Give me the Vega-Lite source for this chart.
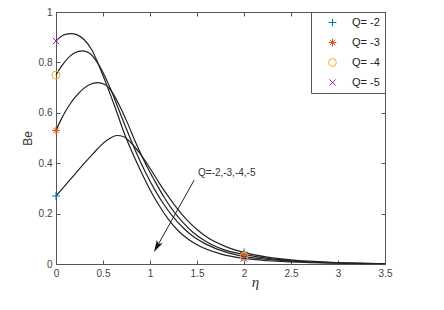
{
  "$schema": "https://vega.github.io/schema/vega-lite/v6.json",
  "width": 329,
  "height": 252,
  "autosize": "none",
  "padding": {"left": 56, "top": 12, "right": 59, "bottom": 46},
  "background": "white",
  "config": {
    "view": {"stroke": "#555", "strokeWidth": 1},
    "axis": {
      "grid": false,
      "domainColor": "#555",
      "tickColor": "#555",
      "labelColor": "#444",
      "labelFont": "Liberation Sans",
      "labelFontSize": 10,
      "tickSize": -4,
      "titleFontWeight": "normal"
    },
    "legend": {
      "orient": "top-right",
      "offset": 0,
      "strokeColor": "#555",
      "fillColor": "white",
      "padding": 5,
      "rowPadding": 7,
      "labelFont": "Liberation Sans",
      "labelFontSize": 11,
      "labelColor": "#222",
      "labelOffset": 14,
      "symbolOffset": 11,
      "symbolSize": 60,
      "symbolStrokeWidth": 1
    }
  },
  "datasets": {
    "curves": [
      {"Q": "-5", "eta": 0, "Be": 0.885}, {"Q": "-5", "eta": 0.05, "Be": 0.902}, {"Q": "-5", "eta": 0.1, "Be": 0.911}, {"Q": "-5", "eta": 0.16, "Be": 0.914}, {"Q": "-5", "eta": 0.22, "Be": 0.91}, {"Q": "-5", "eta": 0.3, "Be": 0.89}, {"Q": "-5", "eta": 0.38, "Be": 0.85}, {"Q": "-5", "eta": 0.46, "Be": 0.785}, {"Q": "-5", "eta": 0.55, "Be": 0.7}, {"Q": "-5", "eta": 0.64, "Be": 0.61}, {"Q": "-5", "eta": 0.72, "Be": 0.525}, {"Q": "-5", "eta": 0.8, "Be": 0.452}, {"Q": "-5", "eta": 0.9, "Be": 0.37}, {"Q": "-5", "eta": 1.0, "Be": 0.295}, {"Q": "-5", "eta": 1.1, "Be": 0.23}, {"Q": "-5", "eta": 1.2, "Be": 0.175}, {"Q": "-5", "eta": 1.3, "Be": 0.132}, {"Q": "-5", "eta": 1.4, "Be": 0.1}, {"Q": "-5", "eta": 1.5, "Be": 0.076}, {"Q": "-5", "eta": 1.75, "Be": 0.04}, {"Q": "-5", "eta": 2.0, "Be": 0.022}, {"Q": "-5", "eta": 2.25, "Be": 0.013}, {"Q": "-5", "eta": 2.5, "Be": 0.008}, {"Q": "-5", "eta": 3.0, "Be": 0.003}, {"Q": "-5", "eta": 3.5, "Be": 0.001},
      {"Q": "-4", "eta": 0, "Be": 0.75}, {"Q": "-4", "eta": 0.05, "Be": 0.78}, {"Q": "-4", "eta": 0.1, "Be": 0.805}, {"Q": "-4", "eta": 0.15, "Be": 0.825}, {"Q": "-4", "eta": 0.2, "Be": 0.838}, {"Q": "-4", "eta": 0.28, "Be": 0.846}, {"Q": "-4", "eta": 0.35, "Be": 0.838}, {"Q": "-4", "eta": 0.42, "Be": 0.81}, {"Q": "-4", "eta": 0.5, "Be": 0.76}, {"Q": "-4", "eta": 0.58, "Be": 0.695}, {"Q": "-4", "eta": 0.66, "Be": 0.62}, {"Q": "-4", "eta": 0.75, "Be": 0.535}, {"Q": "-4", "eta": 0.85, "Be": 0.445}, {"Q": "-4", "eta": 0.95, "Be": 0.365}, {"Q": "-4", "eta": 1.05, "Be": 0.295}, {"Q": "-4", "eta": 1.15, "Be": 0.235}, {"Q": "-4", "eta": 1.25, "Be": 0.185}, {"Q": "-4", "eta": 1.35, "Be": 0.145}, {"Q": "-4", "eta": 1.45, "Be": 0.112}, {"Q": "-4", "eta": 1.6, "Be": 0.078}, {"Q": "-4", "eta": 1.8, "Be": 0.048}, {"Q": "-4", "eta": 2.0, "Be": 0.03}, {"Q": "-4", "eta": 2.25, "Be": 0.018}, {"Q": "-4", "eta": 2.5, "Be": 0.011}, {"Q": "-4", "eta": 3.0, "Be": 0.004}, {"Q": "-4", "eta": 3.5, "Be": 0.002},
      {"Q": "-3", "eta": 0, "Be": 0.53}, {"Q": "-3", "eta": 0.05, "Be": 0.57}, {"Q": "-3", "eta": 0.1, "Be": 0.605}, {"Q": "-3", "eta": 0.15, "Be": 0.635}, {"Q": "-3", "eta": 0.2, "Be": 0.66}, {"Q": "-3", "eta": 0.28, "Be": 0.692}, {"Q": "-3", "eta": 0.36, "Be": 0.712}, {"Q": "-3", "eta": 0.44, "Be": 0.72}, {"Q": "-3", "eta": 0.52, "Be": 0.712}, {"Q": "-3", "eta": 0.6, "Be": 0.68}, {"Q": "-3", "eta": 0.68, "Be": 0.625}, {"Q": "-3", "eta": 0.76, "Be": 0.56}, {"Q": "-3", "eta": 0.85, "Be": 0.48}, {"Q": "-3", "eta": 0.95, "Be": 0.4}, {"Q": "-3", "eta": 1.05, "Be": 0.33}, {"Q": "-3", "eta": 1.15, "Be": 0.265}, {"Q": "-3", "eta": 1.25, "Be": 0.21}, {"Q": "-3", "eta": 1.35, "Be": 0.165}, {"Q": "-3", "eta": 1.45, "Be": 0.128}, {"Q": "-3", "eta": 1.6, "Be": 0.088}, {"Q": "-3", "eta": 1.8, "Be": 0.055}, {"Q": "-3", "eta": 2.0, "Be": 0.038}, {"Q": "-3", "eta": 2.25, "Be": 0.022}, {"Q": "-3", "eta": 2.5, "Be": 0.013}, {"Q": "-3", "eta": 3.0, "Be": 0.005}, {"Q": "-3", "eta": 3.5, "Be": 0.002},
      {"Q": "-2", "eta": 0, "Be": 0.27}, {"Q": "-2", "eta": 0.1, "Be": 0.313}, {"Q": "-2", "eta": 0.2, "Be": 0.356}, {"Q": "-2", "eta": 0.3, "Be": 0.399}, {"Q": "-2", "eta": 0.4, "Be": 0.44}, {"Q": "-2", "eta": 0.47, "Be": 0.468}, {"Q": "-2", "eta": 0.55, "Be": 0.493}, {"Q": "-2", "eta": 0.65, "Be": 0.51}, {"Q": "-2", "eta": 0.72, "Be": 0.505}, {"Q": "-2", "eta": 0.8, "Be": 0.48}, {"Q": "-2", "eta": 0.9, "Be": 0.435}, {"Q": "-2", "eta": 1.0, "Be": 0.38}, {"Q": "-2", "eta": 1.1, "Be": 0.32}, {"Q": "-2", "eta": 1.2, "Be": 0.265}, {"Q": "-2", "eta": 1.3, "Be": 0.215}, {"Q": "-2", "eta": 1.4, "Be": 0.172}, {"Q": "-2", "eta": 1.5, "Be": 0.137}, {"Q": "-2", "eta": 1.6, "Be": 0.108}, {"Q": "-2", "eta": 1.8, "Be": 0.07}, {"Q": "-2", "eta": 2.0, "Be": 0.046}, {"Q": "-2", "eta": 2.25, "Be": 0.027}, {"Q": "-2", "eta": 2.5, "Be": 0.016}, {"Q": "-2", "eta": 3.0, "Be": 0.006}, {"Q": "-2", "eta": 3.5, "Be": 0.002}
    ],
    "markers": [
      {"Q": "Q= -2", "eta": 0, "Be": 0.27}, {"Q": "Q= -2", "eta": 2, "Be": 0.046},
      {"Q": "Q= -3", "eta": 0, "Be": 0.53}, {"Q": "Q= -3", "eta": 2, "Be": 0.038},
      {"Q": "Q= -4", "eta": 0, "Be": 0.75}, {"Q": "Q= -4", "eta": 2, "Be": 0.03},
      {"Q": "Q= -5", "eta": 0, "Be": 0.885}, {"Q": "Q= -5", "eta": 2, "Be": 0.022}
    ],
    "arrow": [{"x1": 1.47, "y1": 0.333, "x2": 1.073, "y2": 0.068}],
    "note": [{"eta": 1.51, "Be": 0.36, "label": "Q=-2,-3,-4,-5"}]
  },
  "layer": [
    {
      "data": {"name": "curves"},
      "mark": {"type": "line", "color": "#222", "strokeWidth": 1.2, "interpolate": "monotone"},
      "encoding": {
        "x": {"field": "eta", "type": "quantitative", "scale": {"domain": [0, 3.5], "nice": false},
          "axis": {"orient": "bottom", "values": [0, 0.5, 1, 1.5, 2, 2.5, 3, 3.5], "format": "~g", "labelPadding": 8, "labelFlush": false,
            "title": "η", "titleFont": "Liberation Serif", "titleFontStyle": "italic", "titleFontSize": 15, "titleColor": "#333",
            "titleX": 199, "titleY": 22, "titleBaseline": "alphabetic"}},
        "y": {"field": "Be", "type": "quantitative", "scale": {"domain": [0, 1], "nice": false},
          "axis": {"orient": "left", "values": [0, 0.2, 0.4, 0.6, 0.8, 1], "format": "~g", "labelPadding": 8, "labelFlush": false,
            "title": "Be", "titleFont": "Liberation Sans", "titleFontSize": 12, "titleColor": "#333",
            "titleX": -22, "titleY": 126, "titleAlign": "center", "titleBaseline": "bottom"}},
        "detail": {"field": "Q", "type": "nominal"}
      }
    },
    {
      "data": {"name": "markers"},
      "mark": {"type": "point", "filled": false, "strokeWidth": 1, "size": 64, "opacity": 1},
      "encoding": {
        "x": {"field": "eta", "type": "quantitative", "axis": null},
        "y": {"field": "Be", "type": "quantitative", "axis": null},
        "color": {"field": "Q", "type": "nominal",
          "scale": {"domain": ["Q= -2", "Q= -3", "Q= -4", "Q= -5"], "range": ["#0072BD", "#D95319", "#EDB120", "#7E2F8E"]},
          "legend": {"title": null}},
        "shape": {"field": "Q", "type": "nominal",
          "scale": {"domain": ["Q= -2", "Q= -3", "Q= -4", "Q= -5"],
            "range": ["M-1,0L1,0M0,-1L0,1", "M-1,0L1,0M0,-1L0,1M-0.7,-0.7L0.7,0.7M-0.7,0.7L0.7,-0.7", "circle", "M-0.8,-0.8L0.8,0.8M-0.8,0.8L0.8,-0.8"]},
          "legend": {"title": null}}
      }
    },
    {
      "data": {"name": "arrow"},
      "mark": {"type": "rule", "color": "#222", "strokeWidth": 1},
      "encoding": {
        "x": {"field": "x1", "type": "quantitative", "axis": null},
        "y": {"field": "y1", "type": "quantitative", "axis": null},
        "x2": {"field": "x2"},
        "y2": {"field": "y2"}
      }
    },
    {
      "data": {"name": "arrow"},
      "mark": {"type": "point", "shape": "M0,1L-0.55,-1L0,-0.55L0.55,-1Z", "filled": true, "color": "#111", "size": 144, "angle": 29, "opacity": 1},
      "encoding": {
        "x": {"field": "x2", "type": "quantitative", "axis": null},
        "y": {"field": "y2", "type": "quantitative", "axis": null}
      }
    },
    {
      "data": {"name": "note"},
      "mark": {"type": "text", "align": "left", "baseline": "middle", "font": "Liberation Sans", "fontSize": 10, "color": "#333"},
      "encoding": {
        "x": {"field": "eta", "type": "quantitative", "axis": null},
        "y": {"field": "Be", "type": "quantitative", "axis": null},
        "text": {"field": "label"}
      }
    },
    {
      "data": {"name": "note"},
      "mark": {"type": "point", "opacity": 0},
      "encoding": {
        "x": {"field": "eta", "type": "quantitative",
          "axis": {"orient": "top", "values": [0, 0.5, 1, 1.5, 2, 2.5, 3, 3.5], "labels": false, "domain": false, "title": null}},
        "y": {"field": "Be", "type": "quantitative",
          "axis": {"orient": "right", "values": [0, 0.2, 0.4, 0.6, 0.8, 1], "labels": false, "domain": false, "title": null}}
      }
    }
  ],
  "resolve": {"axis": {"x": "independent", "y": "independent"}}
}
